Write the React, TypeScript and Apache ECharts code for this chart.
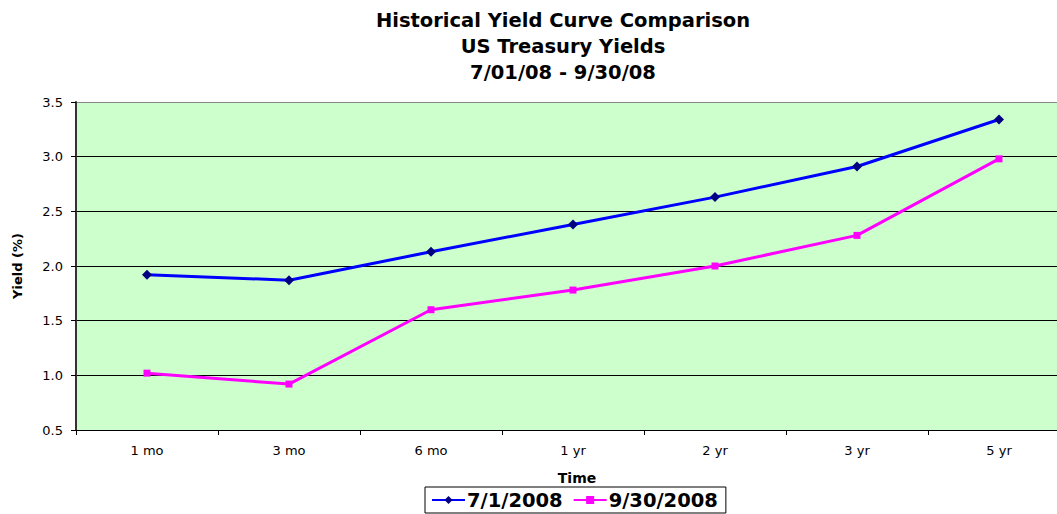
import React, { useEffect, useRef } from "react";
import * as echarts from "echarts";

const categories = ["1 mo", "3 mo", "6 mo", "1 yr", "2 yr", "3 yr", "5 yr"];
const july = [1.92, 1.87, 2.13, 2.38, 2.63, 2.91, 3.34];
const sept = [1.02, 0.92, 1.6, 1.78, 2.0, 2.28, 2.98];
const titleLines = ["Historical Yield Curve Comparison", "US Treasury Yields", "7/01/08 - 9/30/08"];
const seriesNames = ["7/1/2008", "9/30/2008"];

export default function App() {
  const ref = useRef<HTMLDivElement>(null);
  useEffect(() => {
    if (!ref.current) return;
    const chart = echarts.init(ref.current, null, { renderer: "svg" });
    const font = "'DejaVu Sans', sans-serif";
    chart.setOption({
      animation: false,
      textStyle: { fontFamily: font },
      title: {
        text: titleLines.join("\n"),
        left: 558,
        textAlign: "center",
        top: 2,
        textStyle: { fontFamily: font, fontSize: 19.5, fontWeight: "bold", color: "#000", lineHeight: 26 },
      },
      legend: {
        data: seriesNames,
        left: 425,
        top: 487,
        width: 301,
        height: 27,
        padding: [3, 8, 3, 6],
        borderColor: "#000",
        borderWidth: 1,
        itemWidth: 33,
        itemHeight: 10,
        itemGap: 10,
        textStyle: { fontFamily: font, fontSize: 19.5, fontWeight: "bold", color: "#000", padding: [0, 0, 0, -3] },
      },
      grid: {
        left: 76,
        top: 102,
        width: 994,
        height: 328,
        show: true,
        backgroundColor: "#ccffcc",
        borderWidth: 0,
      },
      xAxis: {
        type: "category",
        data: categories,
        boundaryGap: true,
        name: "Time",
        nameLocation: "middle",
        nameGap: 41,
        nameTextStyle: { fontFamily: font, fontSize: 14, fontWeight: "bold", color: "#000", padding: [0, 0, 0, 8] },
        axisLine: { lineStyle: { color: "#000", width: 1 } },
        axisTick: { show: true, length: 5, lineStyle: { color: "#000" } },
        axisLabel: { fontFamily: font, fontSize: 13, color: "#000", margin: 14 },
      },
      yAxis: {
        type: "value",
        min: 0.5,
        max: 3.5,
        interval: 0.5,
        name: "Yield (%)",
        nameLocation: "middle",
        nameGap: 52,
        nameRotate: 90,
        nameTextStyle: { fontFamily: font, fontSize: 13, fontWeight: "bold", color: "#000" },
        axisLine: { show: true, lineStyle: { color: "#333", width: 2 } },
        axisTick: { show: true, length: 5, lineStyle: { color: "#000" } },
        axisLabel: {
          fontFamily: font,
          fontSize: 13,
          color: "#000",
          margin: 13,
          formatter: (v: number) => v.toFixed(1),
        },
        splitLine: {
          show: true,
          lineStyle: { color: ["#000", "#000", "#000", "#000", "#000", "#000", "#888"], width: 1 },
        },
      },
      series: [
        {
          name: seriesNames[0],
          type: "line",
          data: july,
          symbol: "diamond",
          symbolSize: 10,
          lineStyle: { color: "#0000ff", width: 3 },
          itemStyle: { color: "#000080" },
        },
        {
          name: seriesNames[1],
          type: "line",
          data: sept,
          symbol: "rect",
          symbolSize: 7,
          lineStyle: { color: "#ff00ff", width: 3 },
          itemStyle: { color: "#ff00ff" },
        },
      ],
    });
    return () => chart.dispose();
  }, []);
  return (
    <div style={{ width: 1057, height: 514, position: "absolute", left: 0, top: 0, overflow: "hidden", background: "#fff" }}>
      <div ref={ref} style={{ width: 1075, height: 514 }} />
    </div>
  );
}
